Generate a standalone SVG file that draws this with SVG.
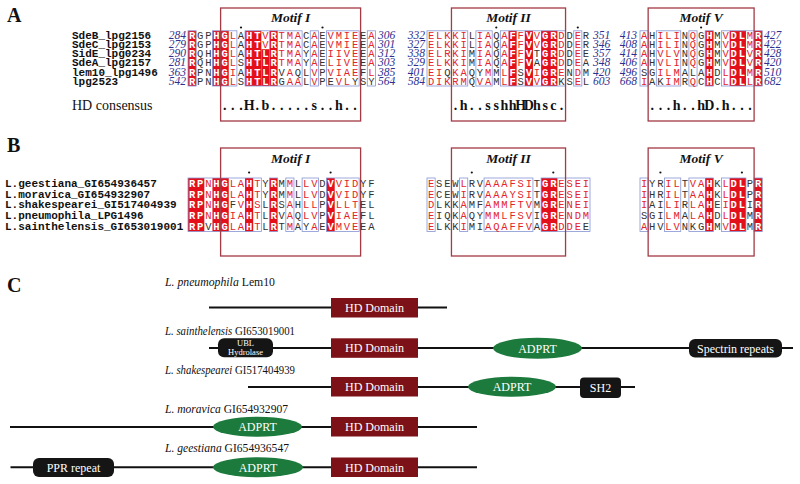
<svg xmlns="http://www.w3.org/2000/svg" width="800" height="484" viewBox="0 0 800 484">
<style>
.lbl{font-family:"Liberation Serif",serif;font-weight:bold;font-size:20px;fill:#111}
.nm{font-family:"Liberation Mono",monospace;font-weight:bold;font-size:11px;fill:#111}
.num{font-family:"Liberation Serif",serif;font-style:italic;font-size:11.5px;fill:#2f2f8f}
.ne{text-anchor:end}
.res{font-family:"Liberation Mono",monospace;font-size:10.5px;text-anchor:middle}
.W{fill:#fff;font-weight:bold}
.R{fill:#e3242b}
.K{fill:#333}
.id{fill:#e3101b}
.fr{fill:none;stroke:#8595d3;stroke-width:0.8}
.mbox{fill:none;stroke:#a33a44;stroke-width:1.3}
.mt{font-family:"Liberation Serif",serif;font-style:italic;font-weight:bold;font-size:13.5px;text-anchor:middle;fill:#111}
.cons{font-family:"Liberation Serif",serif;font-size:14px;font-weight:bold;text-anchor:middle;fill:#111}
.hdc{font-family:"Liberation Serif",serif;font-size:14px;fill:#111}
.dot{fill:#111}
.sp{font-family:"Liberation Serif",serif;font-size:13px;fill:#111}
.it{font-style:italic}
.ln{stroke:#111;stroke-width:2}
.hd{fill:#7c1218}
.ad{fill:#1c7a3c}
.bk{fill:#151515}
.wt{font-family:"Liberation Serif",serif;font-size:12px;fill:#fff;text-anchor:middle}
.wts{font-family:"Liberation Serif",serif;font-size:8.5px;fill:#fff;text-anchor:middle}
</style>

<g id="panelA">
<text class="lbl" x="7" y="22">A</text>
<g id="A-idbg" class="id">
<rect x="188" y="30.8" width="8.15" height="55.2"/>
<rect x="212.45" y="30.8" width="16.3" height="55.2"/>
<rect x="245.05" y="30.8" width="16.3" height="55.2"/>
<rect x="261.35" y="49.2" width="8.15" height="36.8"/>
<rect x="269.5" y="30.8" width="8.15" height="55.2"/>
<rect x="508.5" y="30.8" width="8.15" height="55.2"/>
<rect x="524.8" y="30.8" width="8.15" height="55.2"/>
<rect x="541.1" y="30.8" width="16.3" height="55.2"/>
<rect x="705.2" y="30.8" width="8.15" height="55.2"/>
<rect x="729.65" y="30.8" width="16.3" height="55.2"/>
<rect x="754.1" y="30.8" width="8.15" height="55.2"/>
</g>
<g id="A-frames" class="fr">
<rect x="188" y="30.8" width="8.15" height="55.2"/>
<rect x="212.45" y="30.8" width="24.45" height="55.2"/>
<rect x="245.05" y="30.8" width="57.05" height="55.2"/>
<rect x="310.25" y="30.8" width="8.15" height="55.2"/>
<rect x="326.55" y="30.8" width="32.6" height="55.2"/>
<rect x="367.3" y="30.8" width="8.15" height="55.2"/>
<rect x="427" y="30.8" width="40.75" height="55.2"/>
<rect x="475.9" y="30.8" width="16.3" height="55.2"/>
<rect x="500.35" y="30.8" width="65.2" height="55.2"/>
<rect x="573.7" y="30.8" width="8.15" height="55.2"/>
<rect x="640" y="30.8" width="8.15" height="55.2"/>
<rect x="656.3" y="30.8" width="24.45" height="55.2"/>
<rect x="688.9" y="30.8" width="8.15" height="55.2"/>
<rect x="705.2" y="30.8" width="8.15" height="55.2"/>
<rect x="721.5" y="30.8" width="40.75" height="55.2"/>
</g>
<g id="A-motifs">
<rect class="mbox" x="220.6" y="8" width="140" height="113"/>
<rect class="mbox" x="451.45" y="8" width="114.1" height="113"/>
<rect class="mbox" x="648.15" y="8" width="105.95" height="113"/>
<text class="mt" x="290.6" y="22">Motif I</text>
<text class="mt" x="508.5" y="22">Motif II</text>
<text class="mt" x="701.1" y="22">Motif V</text>
<circle class="dot" cx="241" cy="27.5" r="1.1"/>
<circle class="dot" cx="322.5" cy="27.5" r="1.1"/>
<circle class="dot" cx="496.3" cy="27.5" r="1.1"/>
<circle class="dot" cx="577.8" cy="27.5" r="1.1"/>
<circle class="dot" cx="701.1" cy="27.5" r="1.1"/>
</g>
<g id="A-names" class="nm">
<text x="72" y="38.8">SdeB_lpg2156</text>
<text x="72" y="48">SdeC_lpg2153</text>
<text x="72" y="57.2">SidE_lpg0234</text>
<text x="72" y="66.4">SdeA_lpg2157</text>
<text x="72" y="75.6">lem10_lpg1496</text>
<text x="72" y="84.8">lpg2523</text>
</g>
<g id="A-numbers" class="num">
<text class="ne" x="186" y="38.8">284</text><text x="378" y="38.8">306</text><text class="ne" x="425" y="38.8">332</text><text x="593" y="38.8">351</text><text class="ne" x="637" y="38.8">413</text><text x="764" y="38.8">427</text>
<text class="ne" x="186" y="48">279</text><text x="378" y="48">301</text><text class="ne" x="425" y="48">327</text><text x="593" y="48">346</text><text class="ne" x="637" y="48">408</text><text x="764" y="48">422</text>
<text class="ne" x="186" y="57.2">290</text><text x="378" y="57.2">312</text><text class="ne" x="425" y="57.2">338</text><text x="593" y="57.2">357</text><text class="ne" x="637" y="57.2">414</text><text x="764" y="57.2">428</text>
<text class="ne" x="186" y="66.4">281</text><text x="378" y="66.4">303</text><text class="ne" x="425" y="66.4">329</text><text x="593" y="66.4">348</text><text class="ne" x="637" y="66.4">406</text><text x="764" y="66.4">420</text>
<text class="ne" x="186" y="75.6">363</text><text x="378" y="75.6">385</text><text class="ne" x="425" y="75.6">401</text><text x="593" y="75.6">420</text><text class="ne" x="637" y="75.6">496</text><text x="764" y="75.6">510</text>
<text class="ne" x="186" y="84.8">542</text><text x="378" y="84.8">564</text><text class="ne" x="425" y="84.8">584</text><text x="593" y="84.8">603</text><text class="ne" x="637" y="84.8">668</text><text x="764" y="84.8">682</text>
</g>
<g id="A-block1" class="res">
<text y="38.8"><tspan class="W" x="192.1">R</tspan><tspan class="K" x="200.2 208.4">GP</tspan><tspan class="W" x="216.5 224.7">HG</tspan><tspan class="R" x="232.8">L</tspan><tspan class="K" x="241">A</tspan><tspan class="W" x="249.1 257.3">HT</tspan><tspan class="R" x="265.4">V</tspan><tspan class="W" x="273.6">R</tspan><tspan class="R" x="281.7 289.9 298">TMA</tspan><tspan class="K" x="306.2">C</tspan><tspan class="R" x="314.3">A</tspan><tspan class="K" x="322.5">E</tspan><tspan class="R" x="330.6 338.8 346.9 355.1">VMIE</tspan><tspan class="K" x="363.2">E</tspan><tspan class="R" x="371.4">A</tspan></text>
<text y="48"><tspan class="W" x="192.1">R</tspan><tspan class="K" x="200.2 208.4">GP</tspan><tspan class="W" x="216.5 224.7">HG</tspan><tspan class="R" x="232.8">L</tspan><tspan class="K" x="241">A</tspan><tspan class="W" x="249.1 257.3">HT</tspan><tspan class="R" x="265.4">V</tspan><tspan class="W" x="273.6">R</tspan><tspan class="R" x="281.7 289.9 298">TMA</tspan><tspan class="K" x="306.2">C</tspan><tspan class="R" x="314.3">A</tspan><tspan class="K" x="322.5">E</tspan><tspan class="R" x="330.6 338.8 346.9 355.1">VMIE</tspan><tspan class="K" x="363.2">E</tspan><tspan class="R" x="371.4">A</tspan></text>
<text y="57.2"><tspan class="W" x="192.1">R</tspan><tspan class="K" x="200.2 208.4">QH</tspan><tspan class="W" x="216.5 224.7">HG</tspan><tspan class="R" x="232.8">L</tspan><tspan class="K" x="241">A</tspan><tspan class="W" x="249.1 257.3 265.4 273.6">HTLR</tspan><tspan class="R" x="281.7 289.9 298">TMA</tspan><tspan class="K" x="306.2">Y</tspan><tspan class="R" x="314.3">A</tspan><tspan class="K" x="322.5">E</tspan><tspan class="R" x="330.6 338.8 346.9 355.1">IIVE</tspan><tspan class="K" x="363.2">E</tspan><tspan class="R" x="371.4">A</tspan></text>
<text y="66.4"><tspan class="W" x="192.1">R</tspan><tspan class="K" x="200.2 208.4">QH</tspan><tspan class="W" x="216.5 224.7">HG</tspan><tspan class="R" x="232.8">L</tspan><tspan class="K" x="241">S</tspan><tspan class="W" x="249.1 257.3 265.4 273.6">HTLR</tspan><tspan class="R" x="281.7 289.9 298">TMA</tspan><tspan class="K" x="306.2">Y</tspan><tspan class="R" x="314.3">A</tspan><tspan class="K" x="322.5">E</tspan><tspan class="R" x="330.6 338.8 346.9 355.1">LIVE</tspan><tspan class="K" x="363.2">E</tspan><tspan class="R" x="371.4">A</tspan></text>
<text y="75.6"><tspan class="W" x="192.1">R</tspan><tspan class="K" x="200.2 208.4">PN</tspan><tspan class="W" x="216.5 224.7">HG</tspan><tspan class="R" x="232.8">I</tspan><tspan class="K" x="241">A</tspan><tspan class="W" x="249.1 257.3 265.4 273.6">HTLR</tspan><tspan class="K" x="281.7">V</tspan><tspan class="R" x="289.9">A</tspan><tspan class="K" x="298 306.2">QL</tspan><tspan class="R" x="314.3">V</tspan><tspan class="K" x="322.5">P</tspan><tspan class="R" x="330.6 338.8 346.9 355.1">VIAE</tspan><tspan class="K" x="363.2">F</tspan><tspan class="R" x="371.4">L</tspan></text>
<text y="84.8"><tspan class="W" x="192.1">R</tspan><tspan class="K" x="200.2 208.4">PN</tspan><tspan class="W" x="216.5 224.7">HG</tspan><tspan class="R" x="232.8">L</tspan><tspan class="K" x="241">S</tspan><tspan class="W" x="249.1 257.3 265.4 273.6">HTLR</tspan><tspan class="K" x="281.7">G</tspan><tspan class="R" x="289.9 298">AA</tspan><tspan class="K" x="306.2">L</tspan><tspan class="R" x="314.3">V</tspan><tspan class="K" x="322.5 330.6">PE</tspan><tspan class="R" x="338.8 346.9">VL</tspan><tspan class="K" x="355.1 363.2 371.4">YSY</tspan></text>
</g>
<g id="A-block2" class="res">
<text y="38.8"><tspan class="R" x="431.1 439.2 447.4 455.5 463.7">ELKKI</tspan><tspan class="K" x="471.8">L</tspan><tspan class="R" x="480 488.1">IA</tspan><tspan class="K" x="496.3">Q</tspan><tspan class="R" x="504.4">A</tspan><tspan class="W" x="512.6">F</tspan><tspan class="R" x="520.7">F</tspan><tspan class="W" x="528.9">V</tspan><tspan class="R" x="537">V</tspan><tspan class="W" x="545.2 553.3">GR</tspan><tspan class="R" x="561.5">D</tspan><tspan class="K" x="569.6">D</tspan><tspan class="R" x="577.8">E</tspan><tspan class="K" x="585.9">R</tspan></text>
<text y="48"><tspan class="R" x="431.1 439.2 447.4 455.5 463.7">ELKKI</tspan><tspan class="K" x="471.8">L</tspan><tspan class="R" x="480 488.1">IA</tspan><tspan class="K" x="496.3">Q</tspan><tspan class="R" x="504.4">A</tspan><tspan class="W" x="512.6">F</tspan><tspan class="R" x="520.7">F</tspan><tspan class="W" x="528.9">V</tspan><tspan class="R" x="537">V</tspan><tspan class="W" x="545.2 553.3">GR</tspan><tspan class="R" x="561.5">D</tspan><tspan class="K" x="569.6">D</tspan><tspan class="R" x="577.8">E</tspan><tspan class="K" x="585.9">R</tspan></text>
<text y="57.2"><tspan class="R" x="431.1 439.2 447.4 455.5 463.7">ELRKI</tspan><tspan class="K" x="471.8">M</tspan><tspan class="R" x="480 488.1">IA</tspan><tspan class="K" x="496.3">Q</tspan><tspan class="R" x="504.4">A</tspan><tspan class="W" x="512.6">F</tspan><tspan class="R" x="520.7">F</tspan><tspan class="W" x="528.9">V</tspan><tspan class="K" x="537">T</tspan><tspan class="W" x="545.2 553.3">GR</tspan><tspan class="R" x="561.5">D</tspan><tspan class="K" x="569.6">D</tspan><tspan class="R" x="577.8">E</tspan><tspan class="K" x="585.9">E</tspan></text>
<text y="66.4"><tspan class="R" x="431.1 439.2 447.4 455.5 463.7">ELKKI</tspan><tspan class="K" x="471.8">M</tspan><tspan class="R" x="480 488.1">IA</tspan><tspan class="K" x="496.3">Q</tspan><tspan class="R" x="504.4">A</tspan><tspan class="W" x="512.6">F</tspan><tspan class="R" x="520.7">F</tspan><tspan class="W" x="528.9">V</tspan><tspan class="K" x="537">A</tspan><tspan class="W" x="545.2 553.3">GR</tspan><tspan class="R" x="561.5">D</tspan><tspan class="K" x="569.6">D</tspan><tspan class="R" x="577.8">E</tspan><tspan class="K" x="585.9">A</tspan></text>
<text y="75.6"><tspan class="R" x="431.1 439.2">EI</tspan><tspan class="K" x="447.4">Q</tspan><tspan class="R" x="455.5 463.7">KA</tspan><tspan class="K" x="471.8 480">QY</tspan><tspan class="R" x="488.1">M</tspan><tspan class="K" x="496.3">M</tspan><tspan class="R" x="504.4">L</tspan><tspan class="W" x="512.6">F</tspan><tspan class="K" x="520.7">S</tspan><tspan class="W" x="528.9">V</tspan><tspan class="R" x="537">I</tspan><tspan class="W" x="545.2 553.3">GR</tspan><tspan class="R" x="561.5">E</tspan><tspan class="K" x="569.6">N</tspan><tspan class="R" x="577.8">D</tspan><tspan class="K" x="585.9">M</tspan></text>
<text y="84.8"><tspan class="R" x="431.1 439.2 447.4 455.5 463.7">DIKRM</tspan><tspan class="K" x="471.8">Q</tspan><tspan class="R" x="480 488.1">VA</tspan><tspan class="K" x="496.3">M</tspan><tspan class="R" x="504.4">L</tspan><tspan class="W" x="512.6">F</tspan><tspan class="K" x="520.7">S</tspan><tspan class="W" x="528.9">V</tspan><tspan class="R" x="537">V</tspan><tspan class="W" x="545.2 553.3">GR</tspan><tspan class="K" x="561.5 569.6">KS</tspan><tspan class="R" x="577.8">E</tspan><tspan class="K" x="585.9">L</tspan></text>
</g>
<g id="A-block3" class="res">
<text y="38.8"><tspan class="R" x="644.1">A</tspan><tspan class="K" x="652.2">H</tspan><tspan class="R" x="660.4 668.5 676.7">ILI</tspan><tspan class="K" x="684.8">N</tspan><tspan class="R" x="693">Q</tspan><tspan class="K" x="701.1">G</tspan><tspan class="W" x="709.3">H</tspan><tspan class="K" x="717.4">M</tspan><tspan class="R" x="725.6">V</tspan><tspan class="W" x="733.7 741.9">DL</tspan><tspan class="R" x="750">M</tspan><tspan class="W" x="758.2">R</tspan></text>
<text y="48"><tspan class="R" x="644.1">A</tspan><tspan class="K" x="652.2">H</tspan><tspan class="R" x="660.4 668.5 676.7">ILI</tspan><tspan class="K" x="684.8">N</tspan><tspan class="R" x="693">Q</tspan><tspan class="K" x="701.1">G</tspan><tspan class="W" x="709.3">H</tspan><tspan class="K" x="717.4">M</tspan><tspan class="R" x="725.6">V</tspan><tspan class="W" x="733.7 741.9">DL</tspan><tspan class="R" x="750">M</tspan><tspan class="W" x="758.2">R</tspan></text>
<text y="57.2"><tspan class="R" x="644.1">A</tspan><tspan class="K" x="652.2">H</tspan><tspan class="R" x="660.4 668.5 676.7">VLV</tspan><tspan class="K" x="684.8">N</tspan><tspan class="R" x="693">Q</tspan><tspan class="K" x="701.1">G</tspan><tspan class="W" x="709.3">H</tspan><tspan class="K" x="717.4">M</tspan><tspan class="R" x="725.6">V</tspan><tspan class="W" x="733.7 741.9">DL</tspan><tspan class="R" x="750">V</tspan><tspan class="W" x="758.2">R</tspan></text>
<text y="66.4"><tspan class="R" x="644.1">A</tspan><tspan class="K" x="652.2">H</tspan><tspan class="R" x="660.4 668.5 676.7">VLI</tspan><tspan class="K" x="684.8">N</tspan><tspan class="R" x="693">Q</tspan><tspan class="K" x="701.1">G</tspan><tspan class="W" x="709.3">H</tspan><tspan class="K" x="717.4">M</tspan><tspan class="R" x="725.6">V</tspan><tspan class="W" x="733.7 741.9">DL</tspan><tspan class="R" x="750">V</tspan><tspan class="W" x="758.2">R</tspan></text>
<text y="75.6"><tspan class="K" x="644.1 652.2">SG</tspan><tspan class="R" x="660.4 668.5 676.7">ILM</tspan><tspan class="K" x="684.8 693 701.1">ALA</tspan><tspan class="W" x="709.3">H</tspan><tspan class="K" x="717.4">D</tspan><tspan class="R" x="725.6">L</tspan><tspan class="W" x="733.7 741.9">DL</tspan><tspan class="R" x="750">M</tspan><tspan class="W" x="758.2">R</tspan></text>
<text y="84.8"><tspan class="R" x="644.1">I</tspan><tspan class="K" x="652.2 660.4">AK</tspan><tspan class="R" x="668.5 676.7">IM</tspan><tspan class="K" x="684.8">R</tspan><tspan class="R" x="693">Q</tspan><tspan class="K" x="701.1">C</tspan><tspan class="W" x="709.3">H</tspan><tspan class="K" x="717.4">C</tspan><tspan class="R" x="725.6">L</tspan><tspan class="W" x="733.7 741.9">DL</tspan><tspan class="R" x="750">L</tspan><tspan class="W" x="758.2">R</tspan></text>
</g>
<g id="A-consensus">
<text class="hdc" x="72" y="110">HD consensus</text>
<text class="cons" y="110" x="224.7 232.8 241 249.1 257.3 265.4 273.6 281.7 289.9 298 306.2 314.3 322.5 330.6 338.8 346.9 355.1">...H.b.....s..h..</text>
<text class="cons" y="110" x="455.5 463.7 471.8 480 488.1 496.3 504.4 512.6 520.7 528.9 537 545.2 553.3 561.5">.h..sshhHDhsc.</text>
<text class="cons" y="110" x="652.2 660.4 668.5 676.7 684.8 693 701.1 709.3 717.4 725.6 733.7 741.9 750">...h..hD.h...</text>
</g>
</g>

<g id="panelB">
<text class="lbl" x="7" y="152">B</text>
<g id="B-idbg" class="id">
<rect x="188" y="178" width="16.3" height="53.5"/>
<rect x="212.45" y="178" width="16.3" height="53.5"/>
<rect x="245.05" y="178" width="8.15" height="53.5"/>
<rect x="269.5" y="178" width="8.15" height="53.5"/>
<rect x="326.55" y="178" width="8.15" height="53.5"/>
<rect x="541.1" y="178" width="16.3" height="53.5"/>
<rect x="705.2" y="178" width="8.15" height="53.5"/>
<rect x="729.65" y="178" width="16.3" height="53.5"/>
<rect x="754.1" y="178" width="8.15" height="53.5"/>
</g>
<g id="B-frames" class="fr">
<rect x="188" y="178" width="73.35" height="53.5"/>
<rect x="269.5" y="178" width="8.15" height="53.5"/>
<rect x="285.8" y="178" width="8.15" height="53.5"/>
<rect x="302.1" y="178" width="16.3" height="53.5"/>
<rect x="326.55" y="178" width="32.6" height="53.5"/>
<rect x="427" y="178" width="8.15" height="53.5"/>
<rect x="459.6" y="178" width="8.15" height="53.5"/>
<rect x="484.05" y="178" width="48.9" height="53.5"/>
<rect x="541.1" y="178" width="48.9" height="53.5"/>
<rect x="640" y="178" width="8.15" height="53.5"/>
<rect x="664.45" y="178" width="16.3" height="53.5"/>
<rect x="688.9" y="178" width="24.45" height="53.5"/>
<rect x="721.5" y="178" width="24.45" height="53.5"/>
<rect x="754.1" y="178" width="8.15" height="53.5"/>
</g>
<g id="B-motifs">
<rect class="mbox" x="220.6" y="148" width="140" height="108"/>
<rect class="mbox" x="451.45" y="148" width="114.1" height="108"/>
<rect class="mbox" x="648.15" y="148" width="105.95" height="108"/>
<text class="mt" x="290.6" y="163">Motif I</text>
<text class="mt" x="508.5" y="163">Motif II</text>
<text class="mt" x="701.1" y="163">Motif V</text>
<circle class="dot" cx="249.1" cy="172.5" r="1.1"/>
<circle class="dot" cx="330.6" cy="172.5" r="1.1"/>
<circle class="dot" cx="471.8" cy="172.5" r="1.1"/>
<circle class="dot" cx="553.3" cy="172.5" r="1.1"/>
<circle class="dot" cx="660.4" cy="172.5" r="1.1"/>
<circle class="dot" cx="741.9" cy="172.5" r="1.1"/>
</g>
<g id="B-names" class="nm">
<text x="5" y="186.8">L.geestiana_GI654936457</text>
<text x="5" y="197.5">L.moravica_GI654932907</text>
<text x="5" y="208.2">L.shakespearei_GI517404939</text>
<text x="5" y="218.9">L.pneumophila_LPG1496</text>
<text x="5" y="229.6">L.sainthelensis_GI653019001</text>
</g>
<g id="B-block1" class="res">
<text y="186.8"><tspan class="W" x="192.1 200.2">RP</tspan><tspan class="R" x="208.4">N</tspan><tspan class="W" x="216.5 224.7">HG</tspan><tspan class="R" x="232.8 241">LA</tspan><tspan class="W" x="249.1">H</tspan><tspan class="R" x="257.3">T</tspan><tspan class="K" x="265.4">Y</tspan><tspan class="W" x="273.6">R</tspan><tspan class="K" x="281.7">M</tspan><tspan class="R" x="289.9">M</tspan><tspan class="K" x="298">L</tspan><tspan class="R" x="306.2 314.3">LV</tspan><tspan class="K" x="322.5">D</tspan><tspan class="W" x="330.6">V</tspan><tspan class="R" x="338.8 346.9 355.1">VID</tspan><tspan class="K" x="363.2 371.4">YF</tspan></text>
<text y="197.5"><tspan class="W" x="192.1 200.2">RP</tspan><tspan class="R" x="208.4">N</tspan><tspan class="W" x="216.5 224.7">HG</tspan><tspan class="R" x="232.8 241">LA</tspan><tspan class="W" x="249.1">H</tspan><tspan class="R" x="257.3">T</tspan><tspan class="K" x="265.4">Y</tspan><tspan class="W" x="273.6">R</tspan><tspan class="K" x="281.7">M</tspan><tspan class="R" x="289.9">M</tspan><tspan class="K" x="298">L</tspan><tspan class="R" x="306.2 314.3">LV</tspan><tspan class="K" x="322.5">D</tspan><tspan class="W" x="330.6">V</tspan><tspan class="R" x="338.8 346.9 355.1">VID</tspan><tspan class="K" x="363.2 371.4">YF</tspan></text>
<text y="208.2"><tspan class="W" x="192.1 200.2">RP</tspan><tspan class="R" x="208.4">N</tspan><tspan class="W" x="216.5 224.7">HG</tspan><tspan class="K" x="232.8">F</tspan><tspan class="R" x="241">V</tspan><tspan class="W" x="249.1">H</tspan><tspan class="R" x="257.3">S</tspan><tspan class="K" x="265.4">L</tspan><tspan class="W" x="273.6">R</tspan><tspan class="K" x="281.7">S</tspan><tspan class="R" x="289.9">A</tspan><tspan class="K" x="298">H</tspan><tspan class="R" x="306.2 314.3">LL</tspan><tspan class="K" x="322.5">P</tspan><tspan class="W" x="330.6">V</tspan><tspan class="R" x="338.8 346.9 355.1">LLT</tspan><tspan class="K" x="363.2 371.4">EL</tspan></text>
<text y="218.9"><tspan class="W" x="192.1 200.2">RP</tspan><tspan class="R" x="208.4">N</tspan><tspan class="W" x="216.5 224.7">HG</tspan><tspan class="R" x="232.8 241">IA</tspan><tspan class="W" x="249.1">H</tspan><tspan class="R" x="257.3">T</tspan><tspan class="K" x="265.4">L</tspan><tspan class="W" x="273.6">R</tspan><tspan class="K" x="281.7">V</tspan><tspan class="R" x="289.9">A</tspan><tspan class="K" x="298">Q</tspan><tspan class="R" x="306.2 314.3">LV</tspan><tspan class="K" x="322.5">P</tspan><tspan class="W" x="330.6">V</tspan><tspan class="R" x="338.8 346.9 355.1">IAE</tspan><tspan class="K" x="363.2 371.4">FL</tspan></text>
<text y="229.6"><tspan class="W" x="192.1 200.2">RP</tspan><tspan class="K" x="208.4">V</tspan><tspan class="W" x="216.5 224.7">HG</tspan><tspan class="R" x="232.8 241">LA</tspan><tspan class="W" x="249.1">H</tspan><tspan class="R" x="257.3">T</tspan><tspan class="K" x="265.4">L</tspan><tspan class="W" x="273.6">R</tspan><tspan class="K" x="281.7">T</tspan><tspan class="R" x="289.9">M</tspan><tspan class="K" x="298 306.2">AY</tspan><tspan class="R" x="314.3">A</tspan><tspan class="K" x="322.5">E</tspan><tspan class="W" x="330.6">V</tspan><tspan class="R" x="338.8 346.9 355.1">MVE</tspan><tspan class="K" x="363.2 371.4">EA</tspan></text>
</g>
<g id="B-block2" class="res">
<text y="186.8"><tspan class="R" x="431.1">E</tspan><tspan class="K" x="439.2 447.4 455.5">SEW</tspan><tspan class="R" x="463.7">L</tspan><tspan class="K" x="471.8 480">RV</tspan><tspan class="R" x="488.1 496.3 504.4 512.6 520.7 528.9">AAAFSI</tspan><tspan class="K" x="537">T</tspan><tspan class="W" x="545.2 553.3">GR</tspan><tspan class="R" x="561.5 569.6 577.8 585.9">ESEI</tspan></text>
<text y="197.5"><tspan class="R" x="431.1">E</tspan><tspan class="K" x="439.2 447.4 455.5">CEW</tspan><tspan class="R" x="463.7">I</tspan><tspan class="K" x="471.8 480">RV</tspan><tspan class="R" x="488.1 496.3 504.4 512.6 520.7 528.9">AAAYSI</tspan><tspan class="K" x="537">T</tspan><tspan class="W" x="545.2 553.3">GR</tspan><tspan class="R" x="561.5 569.6 577.8 585.9">ESEI</tspan></text>
<text y="208.2"><tspan class="R" x="431.1">D</tspan><tspan class="K" x="439.2 447.4 455.5">LKK</tspan><tspan class="R" x="463.7">A</tspan><tspan class="K" x="471.8 480">MF</tspan><tspan class="R" x="488.1 496.3 504.4 512.6 520.7 528.9">AMMFTV</tspan><tspan class="K" x="537">M</tspan><tspan class="W" x="545.2 553.3">GR</tspan><tspan class="R" x="561.5 569.6 577.8 585.9">ENEI</tspan></text>
<text y="218.9"><tspan class="R" x="431.1">E</tspan><tspan class="K" x="439.2 447.4 455.5">IQK</tspan><tspan class="R" x="463.7">A</tspan><tspan class="K" x="471.8 480">QY</tspan><tspan class="R" x="488.1 496.3 504.4 512.6 520.7 528.9">MMLFSV</tspan><tspan class="K" x="537">I</tspan><tspan class="W" x="545.2 553.3">GR</tspan><tspan class="R" x="561.5 569.6 577.8 585.9">ENDM</tspan></text>
<text y="229.6"><tspan class="R" x="431.1">E</tspan><tspan class="K" x="439.2 447.4 455.5">LKK</tspan><tspan class="R" x="463.7">I</tspan><tspan class="K" x="471.8 480">MI</tspan><tspan class="R" x="488.1 496.3 504.4 512.6 520.7 528.9">AQAFFV</tspan><tspan class="K" x="537">A</tspan><tspan class="W" x="545.2 553.3">GR</tspan><tspan class="R" x="561.5 569.6 577.8">DDE</tspan><tspan class="K" x="585.9">E</tspan></text>
</g>
<g id="B-block3" class="res">
<text y="186.8"><tspan class="R" x="644.1">I</tspan><tspan class="K" x="652.2 660.4">YR</tspan><tspan class="R" x="668.5 676.7">IL</tspan><tspan class="K" x="684.8">T</tspan><tspan class="R" x="693 701.1">VA</tspan><tspan class="W" x="709.3">H</tspan><tspan class="K" x="717.4">K</tspan><tspan class="R" x="725.6">L</tspan><tspan class="W" x="733.7 741.9">DL</tspan><tspan class="K" x="750">P</tspan><tspan class="W" x="758.2">R</tspan></text>
<text y="197.5"><tspan class="R" x="644.1">I</tspan><tspan class="K" x="652.2 660.4">HR</tspan><tspan class="R" x="668.5 676.7">IL</tspan><tspan class="K" x="684.8">T</tspan><tspan class="R" x="693 701.1">AA</tspan><tspan class="W" x="709.3">H</tspan><tspan class="K" x="717.4">K</tspan><tspan class="R" x="725.6">L</tspan><tspan class="W" x="733.7 741.9">DL</tspan><tspan class="K" x="750">P</tspan><tspan class="W" x="758.2">R</tspan></text>
<text y="208.2"><tspan class="R" x="644.1">I</tspan><tspan class="K" x="652.2 660.4">AI</tspan><tspan class="R" x="668.5 676.7">LI</tspan><tspan class="K" x="684.8">R</tspan><tspan class="R" x="693 701.1">LA</tspan><tspan class="W" x="709.3">H</tspan><tspan class="K" x="717.4">E</tspan><tspan class="R" x="725.6">I</tspan><tspan class="W" x="733.7 741.9">DL</tspan><tspan class="K" x="750">I</tspan><tspan class="W" x="758.2">R</tspan></text>
<text y="218.9"><tspan class="K" x="644.1 652.2 660.4">SGI</tspan><tspan class="R" x="668.5 676.7">LM</tspan><tspan class="K" x="684.8">A</tspan><tspan class="R" x="693 701.1">LA</tspan><tspan class="W" x="709.3">H</tspan><tspan class="K" x="717.4">D</tspan><tspan class="R" x="725.6">L</tspan><tspan class="W" x="733.7 741.9">DL</tspan><tspan class="K" x="750">M</tspan><tspan class="W" x="758.2">R</tspan></text>
<text y="229.6"><tspan class="R" x="644.1">A</tspan><tspan class="K" x="652.2 660.4">HV</tspan><tspan class="R" x="668.5 676.7">LV</tspan><tspan class="K" x="684.8 693 701.1">NKG</tspan><tspan class="W" x="709.3">H</tspan><tspan class="K" x="717.4">M</tspan><tspan class="R" x="725.6">V</tspan><tspan class="W" x="733.7 741.9">DL</tspan><tspan class="K" x="750">M</tspan><tspan class="W" x="758.2">R</tspan></text>
</g>
</g>

<g id="panelC">
<text class="lbl" x="7" y="292">C</text>
<g id="lem10">
<text class="sp" x="165" y="286" textLength="110" lengthAdjust="spacingAndGlyphs"><tspan class="it">L. pneumophila</tspan> Lem10</text>
<line class="ln" x1="209" y1="307.5" x2="447" y2="307.5"/>
<rect class="hd" x="331" y="298" width="87" height="19.5"/>
<text class="wt" x="374.5" y="311.8">HD Domain</text>
</g>
<g id="sainthelensis">
<text class="sp" x="165" y="335" textLength="130" lengthAdjust="spacingAndGlyphs"><tspan class="it">L. sainthelensis</tspan> GI653019001</text>
<line class="ln" x1="209" y1="348" x2="793" y2="348"/>
<rect class="bk" x="218" y="338.3" width="55" height="19" rx="6"/>
<text class="wts" x="245.5" y="346">UBL</text>
<text class="wts" x="245.5" y="355">Hydrolase</text>
<rect class="hd" x="331" y="338.3" width="87" height="19.5"/>
<text class="wt" x="374.5" y="352.3">HD Domain</text>
<ellipse class="ad" cx="537.5" cy="348.3" rx="44.5" ry="10.5"/>
<text class="wt" x="537.5" y="352.5">ADPRT</text>
<rect class="bk" x="689" y="339" width="93" height="18.5" rx="6"/>
<text class="wt" x="735.5" y="352.5">Spectrin repeats</text>
</g>
<g id="shakespearei">
<text class="sp" x="165" y="373.5" textLength="130" lengthAdjust="spacingAndGlyphs"><tspan class="it">L. shakespearei</tspan> GI517404939</text>
<line class="ln" x1="248" y1="387" x2="635" y2="387"/>
<rect class="hd" x="331" y="377" width="87" height="19.5"/>
<text class="wt" x="374.5" y="391">HD Domain</text>
<ellipse class="ad" cx="512" cy="386.8" rx="44" ry="10"/>
<text class="wt" x="512" y="391">ADPRT</text>
<rect class="bk" x="580" y="377.5" width="41" height="20.5" rx="4"/>
<text class="wt" x="600.5" y="391.8">SH2</text>
</g>
<g id="moravica">
<text class="sp" x="165" y="413" textLength="123" lengthAdjust="spacingAndGlyphs"><tspan class="it">L. moravica</tspan> GI654932907</text>
<line class="ln" x1="10" y1="427" x2="477" y2="427"/>
<ellipse class="ad" cx="257.5" cy="426.8" rx="44.5" ry="10"/>
<text class="wt" x="257.5" y="431">ADPRT</text>
<rect class="hd" x="331" y="417" width="87" height="19.5"/>
<text class="wt" x="374.5" y="431">HD Domain</text>
</g>
<g id="geestiana">
<text class="sp" x="165" y="452" textLength="124" lengthAdjust="spacingAndGlyphs"><tspan class="it">L. geestiana</tspan> GI654936547</text>
<line class="ln" x1="10.5" y1="467.3" x2="477" y2="467.3"/>
<rect class="bk" x="33" y="458" width="81" height="19" rx="6"/>
<text class="wt" x="73.5" y="471.8">PPR repeat</text>
<ellipse class="ad" cx="258" cy="467.3" rx="45" ry="10"/>
<text class="wt" x="258" y="471.5">ADPRT</text>
<rect class="hd" x="331" y="457.5" width="87" height="19.5"/>
<text class="wt" x="374.5" y="471.5">HD Domain</text>
</g>
</g>
</svg>
